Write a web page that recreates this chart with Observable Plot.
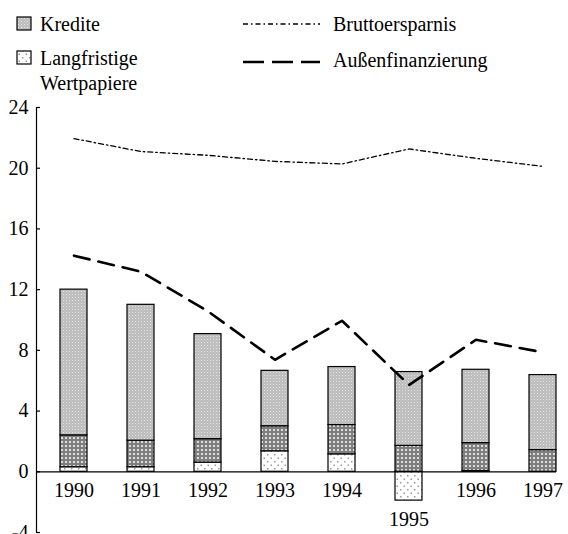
<!DOCTYPE html>
<html><head><meta charset="utf-8">
<script src="https://cdn.jsdelivr.net/npm/d3@7"></script>
<script src="https://cdn.jsdelivr.net/npm/@observablehq/plot@0.6"></script>
</head>
<body style="margin:0;background:#fff;font-family:'Liberation Serif'">
<svg width="568" height="96" font-size="20" style="display:block">
  <rect x="17" y="17" width="14" height="13" fill="url(#pat-kr)" stroke="#000" stroke-width="1.2"/>
  <text x="40" y="31" font-family="Liberation Serif">Kredite</text>
  <rect x="17" y="51" width="14" height="13" fill="url(#pat-wp)" stroke="#000" stroke-width="1.2"/>
  <text x="40" y="65" font-family="Liberation Serif">Langfristige</text>
  <text x="40" y="90" font-family="Liberation Serif">Wertpapiere</text>
  <line x1="243" x2="320" y1="24" y2="24" stroke="#000" stroke-width="1.3" stroke-dasharray="5,3,1.5,3"/>
  <text x="333" y="31" font-family="Liberation Serif">Bruttoersparnis</text>
  <line x1="243" x2="320" y1="62" y2="62" stroke="#000" stroke-width="2.6" stroke-dasharray="21,8"/>
  <text x="333" y="67" font-family="Liberation Serif">Außenfinanzierung</text>
</svg>
<div id="chart"></div>
<script>
// ---- data ----
const years = ["1990", "1991", "1992", "1993", "1994", "1995", "1996", "1997"];
const seriesNames = ["Langfristige Wertpapiere", "Direktinvestitionen", "Kredite"];
const wertpapiere = [0.3, 0.3, 0.6, 1.35, 1.15, -1.9, 0.05, 0];
const direktinvestitionen = [2.1, 1.75, 1.55, 1.65, 1.93, 1.71, 1.84, 1.43];
const kredite = [9.6, 8.95, 6.92, 3.65, 3.82, 4.86, 4.83, 4.94];
const bruttoersparnis = [21.95, 21.1, 20.85, 20.45, 20.28, 21.27, 20.65, 20.12];
const aussenfinanzierung = [14.24, 13.18, 10.57, 7.38, 9.95, 5.72, 8.7, 7.87];
const yTicks = [-4, 0, 4, 8, 12, 16, 20, 24];

// ---- tables ----
const seriesValues = [wertpapiere, direktinvestitionen, kredite];
const bars = years.flatMap((year, i) => seriesNames.map((s, k) => ({ year, series: s, value: seriesValues[k][i] })));
const bruttoRows = years.map((year, i) => ({ year, value: bruttoersparnis[i] }));
const aussenRows = years.map((year, i) => ({ year, value: aussenfinanzierung[i] }));
const labelRows = years.map((year, i) => ({
  year,
  bottom: Math.min(0, d3.sum(seriesValues, v => Math.min(0, v[i])))
}));

const patternIds = ["pat-wp", "pat-di", "pat-kr"];

const chart = Plot.plot({
  width: 568,
  height: 438,
  marginLeft: 36,
  marginRight: 12,
  marginTop: 11,
  marginBottom: 2,
  style: { fontFamily: "Liberation Serif", fontSize: "20px" },
  x: { domain: years, paddingInner: 0.6, paddingOuter: 0.156, align: 0.976, axis: null },
  y: { domain: [-4, 24], axis: null },
  color: { domain: seriesNames, range: patternIds.map(id => `url(#${id})`) },
  marks: [
    Plot.axisY({ ticks: yTicks, tickSize: -4, tickPadding: 12, tickFormat: d => String(d), fontSize: 20, stroke: "#000", strokeWidth: 1.2 }),
    Plot.frame({ anchor: "left", stroke: "#000", strokeWidth: 1.2 }),
    Plot.barY(bars, Plot.stackY({ x: "year", y: "value", fill: "series", order: seriesNames, stroke: "#000", strokeWidth: 1.2 })),
    Plot.ruleY([0], { stroke: "#000", strokeWidth: 1.3 }),
    Plot.lineY(bruttoRows, { x: "year", y: "value", stroke: "#000", strokeWidth: 1.3, strokeDasharray: "5,3,1.5,3" }),
    Plot.lineY(aussenRows, { x: "year", y: "value", stroke: "#000", strokeWidth: 2.6, strokeDasharray: "16,9" }),
    Plot.text(labelRows, { x: "year", y: "bottom", text: "year", lineAnchor: "top", dy: 11, fontSize: 20, fill: "#000" })
  ]
});
document.getElementById("chart").appendChild(chart);

// ---- fill patterns ----
const defs = d3.select(chart).insert("defs", ":first-child");
function pattern(id, w, h, bg, dots) {
  const p = defs.append("pattern").attr("id", id).attr("patternUnits", "userSpaceOnUse").attr("width", w).attr("height", h);
  p.append("rect").attr("width", w).attr("height", h).attr("fill", bg);
  for (const [x, y, s, c] of dots) p.append("rect").attr("x", x).attr("y", y).attr("width", s).attr("height", s).attr("fill", c);
}
pattern("pat-kr", 3, 3, "#bcbcbc", [[0, 0, 1, "#e4e4e4"], [1.5, 1.5, 1, "#d2d2d2"]]);
pattern("pat-di", 4, 4, "#7f7f7f", [[1, 1, 2, "#dcdcdc"]]);
pattern("pat-wp", 7, 7, "#ffffff", [[1, 1, 1.5, "#9a9a9a"], [4.5, 4.5, 1.5, "#9a9a9a"]]);
</script>
</body></html>
